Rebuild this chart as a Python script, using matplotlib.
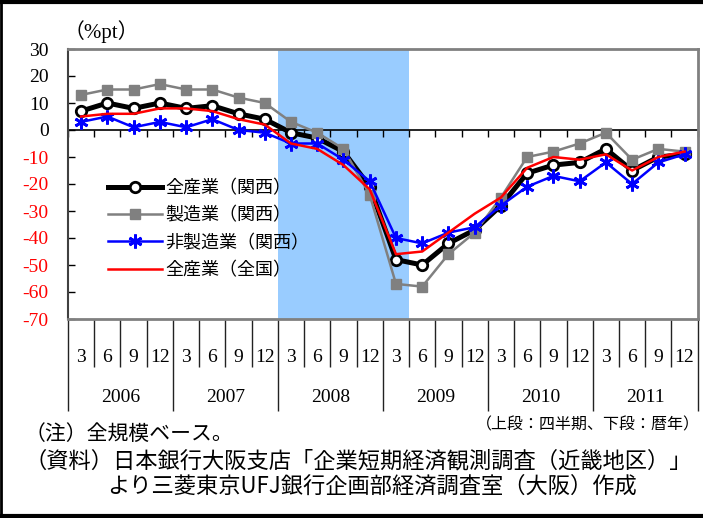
import matplotlib
matplotlib.use("Agg")
import matplotlib.pyplot as plt
import matplotlib.transforms as mtransforms
from matplotlib.lines import Line2D
from matplotlib.ticker import FixedLocator, NullFormatter

plt.rcParams['font.family'] = ['Liberation Serif', 'Noto Sans CJK JP', 'DejaVu Sans']
JP = ['Noto Sans CJK JP', 'DejaVu Sans']

# ---------------- data ----------------
years = ['2006', '2007', '2008', '2009', '2010', '2011']
quarters = ['3', '6', '9', '12']
series_names = ['全産業（関西）', '製造業（関西）', '非製造業（関西）', '全産業（全国）']
kansai_all = [7, 10, 8, 10, 8, 9, 6, 4, -1, -3, -8, -21,
              -48, -50, -42, -37, -28, -16, -13, -12, -7, -15, -10, -9]
kansai_manuf = [13, 15, 15, 17, 15, 15, 12, 10, 3, -1, -7, -24,
                -57, -58, -46, -38, -25, -10, -8, -5, -1, -11, -7, -8]
kansai_nonmanuf = [3, 5, 1, 3, 1, 4, 0, -1, -5, -5, -11, -19,
                   -40, -42, -38, -36, -28, -21, -17, -19, -12, -20, -12, -9]
national_all = [5, 6, 6, 8, 8, 7, 4, 2, -5, -7, -13, -22,
                -46, -45, -38, -31, -25, -14, -10, -11, -9, -15, -10, -8]
recession_start, recession_end = 8, 12   # 2008-3 .. 2009-3 (category index)
yticks = list(range(-70, 31, 10))

n = len(kansai_all)
x = list(range(n))

fig = plt.figure(figsize=(7.03, 5.18), dpi=100)
ax = fig.add_axes([68 / 703, 1 - 319 / 518, (697.7 - 68) / 703, 270 / 518])

ax.axvspan(recession_start - 0.5, recession_end + 0.5, color='#99CCFF', lw=0, zorder=0)
ax.axhline(0, color='black', lw=1.2, zorder=1)

ax.plot(x, kansai_all, color='black', lw=3.6, marker='o', ms=7.5, mfc='white',
        mec='black', mew=2.0, label=series_names[0], zorder=3)
ax.plot(x, kansai_manuf, color='#808080', lw=1.8, marker='s', ms=6.5, mfc='#808080',
        mec='#808080', label=series_names[1], zorder=4)
ax.plot(x, kansai_nonmanuf, color='#0000FF', lw=1.8, marker=(6, 2, 0), ms=10, mew=2.0,
        mec='#0000FF', label=series_names[2], zorder=5)
ax.plot(x, national_all, color='#FF0000', lw=1.8, label=series_names[3], zorder=6)

ax.set_xlim(-0.5, n - 0.5)
ax.set_ylim(-70, 30)

# y axis
ax.set_yticks(yticks)
ax.set_yticklabels([str(v) for v in yticks])
ax.tick_params(axis='y', direction='in', length=5, width=1, pad=14, labelsize=14)
for lab, v in zip(ax.get_yticklabels(), yticks):
    lab.set_color('red' if v < 0 else 'black')

# x axis as table lines
bounds = [i - 0.5 for i in range(n + 1)]
year_bounds = [i - 0.5 for i in range(0, n + 1, 4)]
ax.xaxis.set_major_locator(FixedLocator(year_bounds))
ax.xaxis.set_minor_locator(FixedLocator(bounds))
ax.xaxis.set_major_formatter(NullFormatter())
ax.tick_params(axis='x', which='major', direction='out', length=66, width=1, color='#222222')
ax.tick_params(axis='x', which='minor', direction='out', length=34.5, width=1, color='#222222')

# small ticks on the zero line
sec = ax.secondary_xaxis(0.7)
sec.set_xticks(bounds)
sec.tick_params(direction='in', length=5, width=1, labelbottom=False, labeltop=False)
sec.spines['bottom'].set_visible(False)
sec.spines['top'].set_visible(False)

trans = mtransforms.blended_transform_factory(ax.transData, ax.transAxes)
for i in range(n):
    ax.text(i, -38 / 270, quarters[i % 4], transform=trans, ha='center', va='center',
            fontsize=14, clip_on=False)
for j, yr in enumerate(years):
    ax.text(4 * j + 1.5, -79 / 270, yr, transform=trans, ha='center', va='center',
            fontsize=14, clip_on=False)

for s in ['top', 'right', 'bottom']:
    ax.spines[s].set_color('#808080')
    ax.spines[s].set_linewidth(2)
ax.spines['left'].set_color('#404040')
ax.spines['left'].set_linewidth(1.5)

leg = ax.legend(loc='upper left', bbox_to_anchor=(40 / 630, 1 - 130 / 270), frameon=False,
                prop={'family': JP, 'size': 13}, handlelength=3.0, handletextpad=0.2,
                labelspacing=0.52, borderaxespad=0, borderpad=0)

fig.text(64 / 703, 1 - 32 / 518, '（%pt）', fontsize=15, ha='left', va='center',
         family=['Liberation Serif', 'Noto Sans CJK JP'])

fig.text(700 / 703, 1 - 425 / 518, '（上段：四半期、下段：暦年）', fontsize=11.5,
         ha='right', va='center', family=JP)
fig.text(25 / 703, 1 - 434 / 518, '（注）全規模ベース。', fontsize=15, ha='left',
         va='center', family=JP)
fig.text(25 / 703, 1 - 461 / 518, '（資料）日本銀行大阪支店「企業短期経済観測調査（近畿地区）」',
         fontsize=16, ha='left', va='center', family=JP)
fig.text(107 / 703, 1 - 486 / 518, 'より三菱東京UFJ銀行企画部経済調査室（大阪）作成',
         fontsize=16, ha='left', va='center', family=JP)

# outer frame
fig.add_artist(Line2D([0, 1], [1 - 1.5 / 518, 1 - 1.5 / 518], color='black', lw=3,
                      transform=fig.transFigure))
fig.add_artist(Line2D([0, 1], [2 / 518, 2 / 518], color='black', lw=3,
                      transform=fig.transFigure))
fig.add_artist(Line2D([1 / 703, 1 / 703], [0, 1], color='black', lw=2,
                      transform=fig.transFigure))

fig.savefig('out.png', dpi=100)
